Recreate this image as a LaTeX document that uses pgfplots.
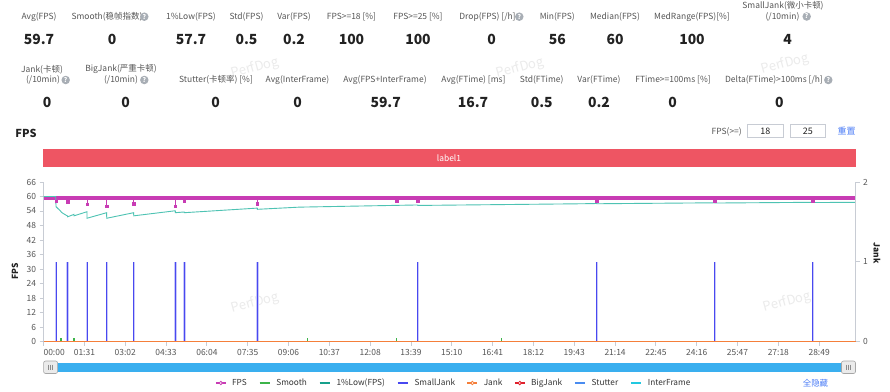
\documentclass[border=0pt]{standalone}
\usepackage{pgfplots}
\pgfplotsset{compat=1.18}
\usepackage{pgfplotstable}
\usepackage{fontspec}
\setmainfont{Noto Sans CJK SC}
\definecolor{fpsc}{HTML}{C83CB4}
\definecolor{smoothc}{HTML}{3CB44A}
\definecolor{lowc}{HTML}{4EC3B3}
\definecolor{lowleg}{HTML}{16A08C}
\definecolor{sjc}{HTML}{4848F0}
\definecolor{jankc}{HTML}{F57F3A}
\definecolor{bjc}{HTML}{E0202C}
\definecolor{stc}{HTML}{4A8CF0}
\definecolor{ifc}{HTML}{22C8E0}
\definecolor{lblc}{HTML}{555555}
\definecolor{valc}{HTML}{222222}
\definecolor{axc}{HTML}{C8CCD4}
\definecolor{barc}{HTML}{EE5563}
\definecolor{scrc}{HTML}{3AAFEF}
\definecolor{linkc}{HTML}{4D7EF7}
\definecolor{iconc}{HTML}{A8AEB5}
\definecolor{wmc}{HTML}{EBEBEB}

% FPS main band (values around 59-60)
\pgfplotstableread{
t fps
0 59.4
300 59.4
600 59.4
900 59.4
1200 59.4
1500 59.4
1810 59.4
}\fpsband

% FPS drops (err = distance up to the band)
\pgfplotstableread{
t fps err
27.7 58.0 1.0
53.7 57.8 1.2
96.8 56.9 2.1
140.7 56.0 3.0
200.9 57.0 2.0
293.7 56.0 3.0
313.7 58.0 1.0
476.5 57.0 2.0
787.4 58.0 1.0
834.2 58.0 1.0
1233.4 58.0 1.0
1496.5 58.0 1.0
1714.6 58.0 1.0
}\fpsdrops

% 1%Low(FPS)
\pgfplotstableread{
t v
0 60
27.0 60
27.7 55.8
32 55.0
36 54.3
41 53.3
47 52.6
53.6 51.9
53.7 51.6
62 52.2
67.7 52.6
67.8 52.0
96.7 53.7
96.8 51.0
140.6 53.3
140.7 51.0
200.8 53.3
200.9 52.0
293.6 54.1
293.7 53.3
313.6 53.6
313.7 53.3
476.4 55.2
476.5 54.7
570 55.6
834.1 56.5
834.2 56.3
1200 57.0
1233.3 57.1
1233.4 57.0
1496.4 57.4
1496.5 57.3
1714.5 57.6
1714.6 57.5
1810 57.6
}\lowfps

% Smooth
\pgfplotstableread{
t v
37.2 1.6
40.4 1.6
67.8 1.6
97.4 1.6
588.0 1.4
787.4 1.4
1021.5 1.4
}\smooth

% SmallJank
\pgfplotstableread{
t v
27.7 1
53.7 1
96.8 1
140.7 1
200.9 1
293.7 1
313.7 1
476.5 1
834.2 1
1233.4 1
1496.5 1
1714.6 1
}\smalljank

\tikzset{
  lbl/.style={font=\fontsize{8.5}{10}\selectfont, text=lblc, inner sep=0pt},
  val/.style={font=\fontsize{14}{16}\selectfont\bfseries, text=valc, inner sep=0pt},
  wm/.style={font=\fontsize{13}{13}\selectfont, text=wmc, rotate=15, inner sep=0pt}
}
\newcommand{\qi}[2]{\node[circle, fill=iconc, inner sep=0pt, minimum size=8.5bp, text=white, font=\fontsize{6.5}{6.5}\selectfont\bfseries] at (#1,#2) {?};}

\begin{document}
\begin{tikzpicture}
\fill[white] (0,0) rectangle (890bp,-392bp);
\useasboundingbox (0,0) rectangle (890bp,-392bp);

\begin{scope}[x=1bp,y=-1bp]
% watermarks
\node[wm] at (255,68) {PerfDog};
\node[wm] at (520,68) {PerfDog};
\node[wm] at (785,64) {PerfDog};
\node[wm] at (255,303) {PerfDog};
\node[wm] at (787,302) {PerfDog};

% ---- row 1
\node[lbl] at (39,16.7) {Avg(FPS)};            \node[val] at (39,39.5) {59.7};
\node[lbl] at (107,16.7) {Smooth(稳帧指数)}; \qi{144.3}{16.7} \node[val] at (112,39.5) {0};
\node[lbl] at (191,16.7) {1\%Low(FPS)};        \node[val] at (191,39.5) {57.7};
\node[lbl] at (246.5,16.7) {Std(FPS)};         \node[val] at (246.5,39.5) {0.5};
\node[lbl] at (294,16.7) {Var(FPS)};           \node[val] at (294,39.5) {0.2};
\node[lbl] at (351.5,16.7) {FPS>=18 [\%]};     \node[val] at (351.5,39.5) {100};
\node[lbl] at (418,16.7) {FPS>=25 [\%]};       \node[val] at (418,39.5) {100};
\node[lbl] at (487.5,16.7) {Drop(FPS) [/h]}; \qi{519.3}{16.7} \node[val] at (491.7,39.5) {0};
\node[lbl] at (557.3,16.7) {Min(FPS)};         \node[val] at (557.3,39.5) {56};
\node[lbl] at (615,16.7) {Median(FPS)};        \node[val] at (615,39.5) {60};
\node[lbl] at (692,16.7) {MedRange(FPS)[\%]};  \node[val] at (692,39.5) {100};
\node[lbl] at (783,6) {SmallJank(微小卡顿)};
\node[lbl] at (782.5,16.5) {(/10min)}; \qi{806.7}{16.5} \node[val] at (787.7,39.5) {4};

% ---- row 2
\node[lbl] at (42,69.3) {Jank(卡顿)};
\node[lbl] at (43,80) {(/10min)}; \qi{65.7}{80} \node[val] at (47,102) {0};
\node[lbl] at (121,69.3) {BigJank(严重卡顿)};
\node[lbl] at (121,80) {(/10min)}; \qi{144.3}{80} \node[val] at (125.7,102) {0};
\node[lbl] at (216,80) {Stutter(卡顿率) [\%]};  \node[val] at (215.7,102) {0};
\node[lbl] at (297.5,80) {Avg(InterFrame)};      \node[val] at (297.7,102) {0};
\node[lbl] at (385,80) {Avg(FPS+InterFrame)};    \node[val] at (385.7,102) {59.7};
\node[lbl] at (473.5,80) {Avg(FTime) [ms]};      \node[val] at (473,102) {16.7};
\node[lbl] at (541.7,80) {Std(FTime)};           \node[val] at (541.7,102) {0.5};
\node[lbl] at (599,80) {Var(FTime)};             \node[val] at (599,102) {0.2};
\node[lbl] at (673,80) {FTime>=100ms [\%]};      \node[val] at (672.7,102) {0};
\node[lbl] at (774,80) {Delta(FTime)>100ms [/h]}; \qi{828.3}{80} \node[val] at (779.3,102) {0};

% ---- chart header
\node[font=\fontsize{11}{12}\selectfont\bfseries, text=valc, inner sep=0pt] at (26,133) {FPS};
\node[font=\fontsize{8.5}{10}\selectfont, text=lblc, inner sep=0pt] at (726.7,131.5) {FPS(>=)};
\draw[axc, line width=0.8bp] (747.3,124.3) rectangle (783.3,137.7);
\node[font=\fontsize{9}{10}\selectfont, text=valc, inner sep=0pt] at (765.3,131.3) {18};
\draw[axc, line width=0.8bp] (790,124.3) rectangle (825.7,137.7);
\node[font=\fontsize{9}{10}\selectfont, text=valc, inner sep=0pt] at (807.8,131.3) {25};
\node[font=\fontsize{9}{10}\selectfont, text=linkc, inner sep=0pt] at (846.7,131.3) {重置};

% label bar
\fill[barc] (42.7,149.3) rectangle (855.5,166.7);
\node[font=\fontsize{8.5}{10}\selectfont, text=white, inner sep=0pt] at (449,158) {label1};

% axis titles
\node[font=\fontsize{8.5}{10}\selectfont\bfseries, text=valc, rotate=90, inner sep=0pt] at (15,271) {FPS};
\node[font=\fontsize{8.5}{10}\selectfont\bfseries, text=valc, rotate=-90, inner sep=0pt] at (877,253) {Jank};

% scrollbar
\fill[scrc] (43.6,362.5) rectangle (855.5,372);
\draw[rounded corners=2bp, fill=white!92!black, draw=black!35, line width=0.6bp] (43.6,361) rectangle (57.6,373.5);
\draw[black!45, line width=0.5bp] (48.6,364.5)--(48.6,370) (50.6,364.5)--(50.6,370) (52.6,364.5)--(52.6,370);
\draw[rounded corners=2bp, fill=white!92!black, draw=black!35, line width=0.6bp] (841.5,361) rectangle (855.5,373.5);
\draw[black!45, line width=0.5bp] (846.5,364.5)--(846.5,370) (848.5,364.5)--(848.5,370) (850.5,364.5)--(850.5,370);

\node[font=\fontsize{8.5}{10}\selectfont, text=linkc, inner sep=0pt] at (815.5,383) {全隐藏};
\end{scope}

% ---------- left axis (FPS)
\begin{axis}[
  at={(43.6bp,-341.5bp)}, anchor=south west,
  scale only axis, width=811.9bp, height=159.5bp,
  xmin=0, xmax=1810, ymin=0, ymax=66,
  axis x line*=bottom, axis y line*=left,
  axis line style={axc, line width=0.8bp},
  tick style={axc, line width=0.8bp},
  major tick length=4bp, tick align=outside,
  xtick={0,91,...,1729},
  xticklabels={\rlap{00:00},01:31,03:02,04:33,06:04,07:35,09:06,10:37,12:08,13:39,15:10,16:41,18:12,19:43,21:14,22:45,24:16,25:47,27:18,28:49},
  ytick={0,6,...,66},
  ticklabel style={font=\fontsize{8.5}{10}\selectfont, text=lblc},
  /pgf/number format/assume math mode=true,
  clip=false,
]
\addplot[fpsc, line width=4.6bp] table[x=t,y=fps] {\fpsband};
\addplot[fpsc, only marks, mark=square*, mark size=1.2bp,
  error bars/.cd, y dir=plus, y explicit, error mark=none,
  error bar style={fpsc, line width=0.8bp}]
  table[x=t,y=fps,y error=err] {\fpsdrops};
\addplot[lowc, line width=0.9bp] table[x=t,y=v] {\lowfps};
\addplot[smoothc, ycomb, line width=1.2bp] table[x=t,y=v] {\smooth};
\end{axis}

% ---------- right axis (Jank)
\begin{axis}[
  at={(43.6bp,-341.5bp)}, anchor=south west,
  scale only axis, width=811.9bp, height=159.5bp,
  xmin=0, xmax=1810, ymin=0, ymax=2,
  axis x line=none, axis y line*=right,
  axis line style={axc, line width=0.8bp},
  tick style={axc, line width=0.8bp},
  major tick length=4bp, tick align=outside,
  ytick={0,1,2},
  ticklabel style={font=\fontsize{8.5}{10}\selectfont, text=lblc},
  /pgf/number format/assume math mode=true,
  clip=false,
  legend columns=-1,
  legend style={at={(axis description cs:0.2111,-0.2602)}, anchor=west,
    draw=none, fill=none, inner sep=0pt, outer sep=0pt,
    font=\fontsize{8.3}{10}\selectfont, text=black!80,
    nodes={inner sep=0pt},
    /tikz/every odd column/.append style={column sep=5.5bp},
    /tikz/every even column/.append style={column sep=11.5bp}},
  legend cell align=left,
]
\addplot[sjc!30, ycomb, line width=2.4bp, forget plot] table[x=t,y=v] {\smalljank};
\addplot[sjc, ycomb, line width=1bp, forget plot] table[x=t,y=v] {\smalljank};
\addplot[ifc, line width=1.2bp, forget plot] coordinates {(0,0) (1810,0)};
\addplot[stc, line width=1.2bp, forget plot] coordinates {(0,0) (1810,0)};
\addplot[bjc, line width=1.2bp, forget plot] coordinates {(0,0) (1810,0)};
\addplot[jankc, line width=1.3bp, forget plot] coordinates {(0,0) (1810,0)};

\addlegendimage{legend image code/.code={\draw[fpsc, line width=1.6bp] (0bp,0bp)--(10bp,0bp); \draw[fpsc, fill=white, line width=0.8bp] (5bp,0bp) circle (1.7bp);}}
\addlegendentry{FPS}
\addlegendimage{legend image code/.code={\draw[smoothc, line width=2.6bp] (0bp,0bp)--(10bp,0bp);}}
\addlegendentry{Smooth}
\addlegendimage{legend image code/.code={\draw[lowleg, line width=2.6bp] (0bp,0bp)--(10bp,0bp);}}
\addlegendentry{1\%Low(FPS)}
\addlegendimage{legend image code/.code={\draw[sjc, line width=2.6bp] (0bp,0bp)--(10bp,0bp);}}
\addlegendentry{SmallJank}
\addlegendimage{legend image code/.code={\draw[jankc, line width=1.6bp] (0bp,0bp)--(10bp,0bp); \draw[jankc, fill=white, line width=0.8bp] (5bp,0bp) circle (1.7bp);}}
\addlegendentry{Jank}
\addlegendimage{legend image code/.code={\draw[bjc, line width=1.6bp] (0bp,0bp)--(10bp,0bp); \draw[bjc, fill=white, line width=0.8bp] (5bp,0bp) circle (1.7bp);}}
\addlegendentry{BigJank}
\addlegendimage{legend image code/.code={\draw[stc, line width=2.6bp] (0bp,0bp)--(10bp,0bp);}}
\addlegendentry{Stutter}
\addlegendimage{legend image code/.code={\draw[ifc, line width=2.6bp] (0bp,0bp)--(10bp,0bp);}}
\addlegendentry{InterFrame}
\end{axis}
\end{tikzpicture}
\end{document}
